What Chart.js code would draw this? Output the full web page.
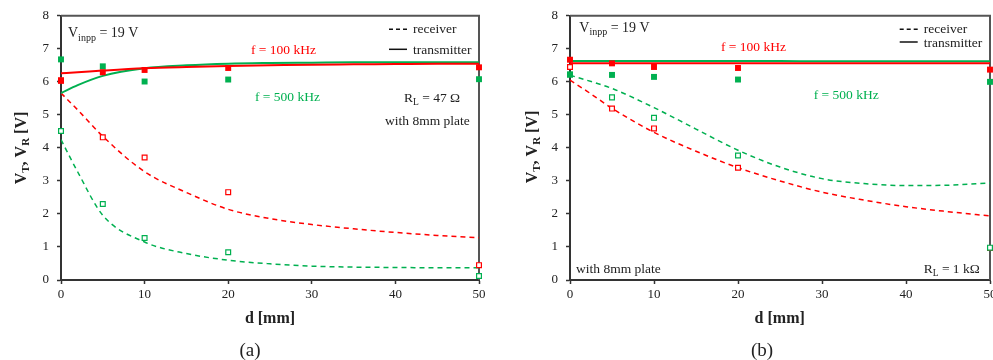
<!DOCTYPE html>
<html><head><meta charset="utf-8">
<script src="https://cdn.jsdelivr.net/npm/chart.js@4/dist/chart.umd.min.js"></script>
<style>
html,body{margin:0;padding:0;background:#fff;overflow:hidden;width:993px;height:360px}
#wa{position:absolute;left:0;top:0;width:497px;height:360px}
#wb{position:absolute;left:497px;top:0;width:510px;height:360px}
</style></head><body>
<div id="wa"><canvas id="ca" width="497" height="360"></canvas></div>
<div id="wb"><canvas id="cb" width="510" height="360"></canvas></div>
<script>
// ---- Data ----
const xMeas = [0, 5, 10, 20, 50];
const xFit  = [0, 2, 5, 10, 15, 20, 25, 30, 35, 40, 45, 50];
const xTicks = [0, 10, 20, 30, 40, 50];
const yTicks = [0, 1, 2, 3, 4, 5, 6, 7, 8];

// (a) R_L = 47 ohm
const a_tx100 = [6.03, 6.29, 6.36, 6.42, 6.44];
const a_tx500 = [6.68, 6.47, 6.01, 6.07, 6.08];
const a_rx100 = [6.05, 4.32, 3.71, 2.66, 0.45];
const a_rx500 = [4.51, 2.30, 1.27, 0.84, 0.12];
const a_fitTx100 = [6.26, 6.29, 6.34, 6.41, 6.45, 6.48, 6.50, 6.52, 6.53, 6.54, 6.55, 6.55];
const a_fitTx500 = [5.66, 5.90, 6.18, 6.41, 6.50, 6.55, 6.57, 6.58, 6.59, 6.59, 6.59, 6.59];
const a_fitRx100 = [5.66, 5.15, 4.35, 3.28, 2.65, 2.14, 1.86, 1.68, 1.55, 1.44, 1.35, 1.28];
const a_fitRx500 = [4.25, 3.27, 1.96, 1.15, 0.80, 0.60, 0.49, 0.42, 0.39, 0.38, 0.37, 0.37];

// (b) R_L = 1 kohm
const b_tx100 = [6.67, 6.56, 6.45, 6.42, 6.37];
const b_tx500 = [6.22, 6.21, 6.15, 6.07, 6.00];
const b_rx100 = [6.45, 5.19, 4.59, 3.40, 0.97];
const b_rx500 = [6.22, 5.53, 4.91, 3.77, 0.98];
const b_fitTx100 = [6.56, 6.56, 6.56, 6.56, 6.56, 6.56, 6.56, 6.56, 6.56, 6.56, 6.56, 6.56];
const b_fitTx500 = [6.63, 6.63, 6.63, 6.63, 6.63, 6.63, 6.63, 6.62, 6.62, 6.62, 6.62, 6.62];
const b_fitRx100 = [6.05, 5.72, 5.20, 4.47, 3.90, 3.40, 3.00, 2.66, 2.42, 2.22, 2.07, 1.94];
const b_fitRx500 = [6.20, 6.05, 5.80, 5.22, 4.57, 3.93, 3.42, 3.07, 2.92, 2.86, 2.87, 2.94];

// ---- Styles ----
const RED = '#ff0000', GREEN = '#00b050';
const FONT = '"Liberation Serif", "Times New Roman", serif';
Chart.defaults.font.family = FONT;
Chart.defaults.color = '#222';

const pts = (xs, ys) => xs.map((x, i) => ({x, y: ys[i]}));

function datasets(tx100, tx500, rx100, rx500, f1, f2, f3, f4) {
  const filled = c => ({pointStyle: 'rect', pointRadius: 4.2, backgroundColor: c, borderColor: c, borderWidth: 0, showLine: false, clip: false});
  const hollow = c => ({pointStyle: 'rect', pointRadius: 3.4, backgroundColor: '#fff', borderColor: c, borderWidth: 1.2, showLine: false, clip: false});
  const line = (c, dash, w) => ({showLine: true, pointRadius: 0, borderColor: c, borderWidth: w, borderDash: dash, cubicInterpolationMode: 'monotone', fill: false});
  return [
    Object.assign({data: pts(xMeas, tx100)}, filled(RED)),
    Object.assign({data: pts(xMeas, tx500)}, filled(GREEN)),
    Object.assign({data: pts(xMeas, rx500)}, hollow(GREEN)),
    Object.assign({data: pts(xMeas, rx100)}, hollow(RED)),
    Object.assign({data: pts(xFit, f1)}, line(RED, [], 2)),
    Object.assign({data: pts(xFit, f2)}, line(GREEN, [], 2)),
    Object.assign({data: pts(xFit, f3)}, line(RED, [5, 4], 1.5)),
    Object.assign({data: pts(xFit, f4)}, line(GREEN, [5, 4], 1.5)),
  ];
}

function rich(ctx, parts, x, y, align, color) {
  let w = 0;
  const fnt = p => (p[2] ? 'bold ' : '') + p[1] + 'px ' + FONT;
  parts.forEach(p => { ctx.font = fnt(p); w += ctx.measureText(p[0]).width; });
  let cx = align === 'center' ? x - w / 2 : x;
  ctx.textAlign = 'left'; ctx.textBaseline = 'alphabetic'; ctx.fillStyle = color || '#222';
  parts.forEach(p => { ctx.font = fnt(p); ctx.fillText(p[0], cx, y + (p[3] || 0)); cx += ctx.measureText(p[0]).width; });
}

function makePlugin(cfg) {
  return {
    id: 'deco',
    beforeDatasetsDraw(chart) {
      const {ctx, chartArea: a} = chart;
      ctx.save();
      ctx.strokeStyle = '#555'; ctx.lineWidth = 2;
      ctx.beginPath();
      ctx.moveTo(a.left, a.top); ctx.lineTo(a.right, a.top); ctx.lineTo(a.right, a.bottom);
      ctx.stroke();
      ctx.restore();
    },
    afterDraw(chart) {
      const ctx = chart.ctx;
      ctx.save();
      const T = 13.5;
      // Vinpp
      rich(ctx, [['V', 14], ['inpp', 10, false, 3.5], [' = 19 V', 14]], cfg.vin[0], cfg.vin[1], 'left');
      // legend
      ctx.strokeStyle = '#111'; ctx.lineWidth = 1.5;
      ctx.setLineDash([4, 3]);
      ctx.beginPath(); ctx.moveTo(cfg.leg[0], cfg.leg[2]); ctx.lineTo(cfg.leg[1], cfg.leg[2]); ctx.stroke();
      ctx.setLineDash([]);
      ctx.beginPath(); ctx.moveTo(cfg.leg[0], cfg.leg[3]); ctx.lineTo(cfg.leg[1], cfg.leg[3]); ctx.stroke();
      rich(ctx, [['receiver', T]], cfg.leg[4], cfg.leg[2] + 4, 'left');
      rich(ctx, [['transmitter', T]], cfg.leg[4], cfg.leg[3] + 4.5, 'left');
      // frequency labels
      rich(ctx, [['f = 100 kHz', T]], cfg.f100[0], cfg.f100[1], 'left', RED);
      rich(ctx, [['f = 500 kHz', T]], cfg.f500[0], cfg.f500[1], 'left', GREEN);
      // RL
      rich(ctx, [['R', T], ['L', 9.5, false, 3], [cfg.rl, T]], cfg.rlPos[0], cfg.rlPos[1], 'left');
      rich(ctx, [['with 8mm plate', T]], cfg.plate[0], cfg.plate[1], 'left');
      // x title
      rich(ctx, [['d [mm]', 16, true]], cfg.xt[0], cfg.xt[1], 'center');
      // caption
      rich(ctx, [[cfg.cap, 19]], cfg.capPos[0], cfg.capPos[1], 'center');
      // y title
      ctx.translate(cfg.yt[0], cfg.yt[1]);
      ctx.rotate(-Math.PI / 2);
      rich(ctx, [['V', 16, true], ['T', 11, true, 3], [', V', 16, true], ['R', 11, true, 3], [' [V]', 16, true]], 0, 5.5, 'center');
      ctx.restore();
    }
  };
}

function makeChart(id, ds, yW, padR, cfg) {
  return new Chart(document.getElementById(id), {
    type: 'scatter',
    data: {datasets: ds},
    options: {
      responsive: false, animation: false,
      layout: {padding: {top: 15, right: padR, bottom: 0, left: 0}},
      plugins: {legend: {display: false}, tooltip: {enabled: false}},
      scales: {
        x: {
          type: 'linear', min: 0, max: 50,
          afterBuildTicks: s => { s.ticks = xTicks.map(v => ({value: v})); },
          ticks: {padding: 3, font: {size: 13}, color: '#222', maxRotation: 0},
          grid: {display: true, drawOnChartArea: false, drawTicks: true, tickLength: 4, tickColor: '#333', tickWidth: 1.5},
          border: {display: true, color: '#333', width: 2},
          afterFit: s => { s.height = 80; }
        },
        y: {
          type: 'linear', min: 0, max: 8,
          afterBuildTicks: s => { s.ticks = yTicks.map(v => ({value: v})); },
          ticks: {padding: 8, font: {size: 13}, color: '#222'},
          grid: {display: true, drawOnChartArea: false, drawTicks: true, tickLength: 4, tickColor: '#333', tickWidth: 1.5},
          border: {display: true, color: '#333', width: 2},
          afterFit: s => { s.width = yW; }
        }
      }
    },
    plugins: [makePlugin(cfg)]
  });
}

makeChart('ca', datasets(a_tx100, a_tx500, a_rx100, a_rx500, a_fitTx100, a_fitTx500, a_fitRx100, a_fitRx500), 61, 18, {
  vin: [68, 37.3], leg: [389, 407, 29.3, 49.3, 413], f100: [251, 53.5], f500: [255, 100.5],
  rl: ' = 47 \u03A9', rlPos: [404, 102], plate: [385, 124.5], xt: [270, 322.5], cap: '(a)', capPos: [250, 355.5], yt: [20, 148]
});
makeChart('cb', datasets(b_tx100, b_tx500, b_rx100, b_rx500, b_fitTx100, b_fitTx500, b_fitRx100, b_fitRx500), 73, 17, {
  vin: [82.3, 31.5], leg: [402.7, 420.7, 29.3, 42, 426.7], f100: [224, 51.2], f500: [316.7, 98.5],
  rl: ' = 1 k\u03A9', rlPos: [426.7, 272.5], plate: [79, 272.5], xt: [282.7, 322.5], cap: '(b)', capPos: [265, 355.5], yt: [34.5, 147]
});
</script></body></html>
